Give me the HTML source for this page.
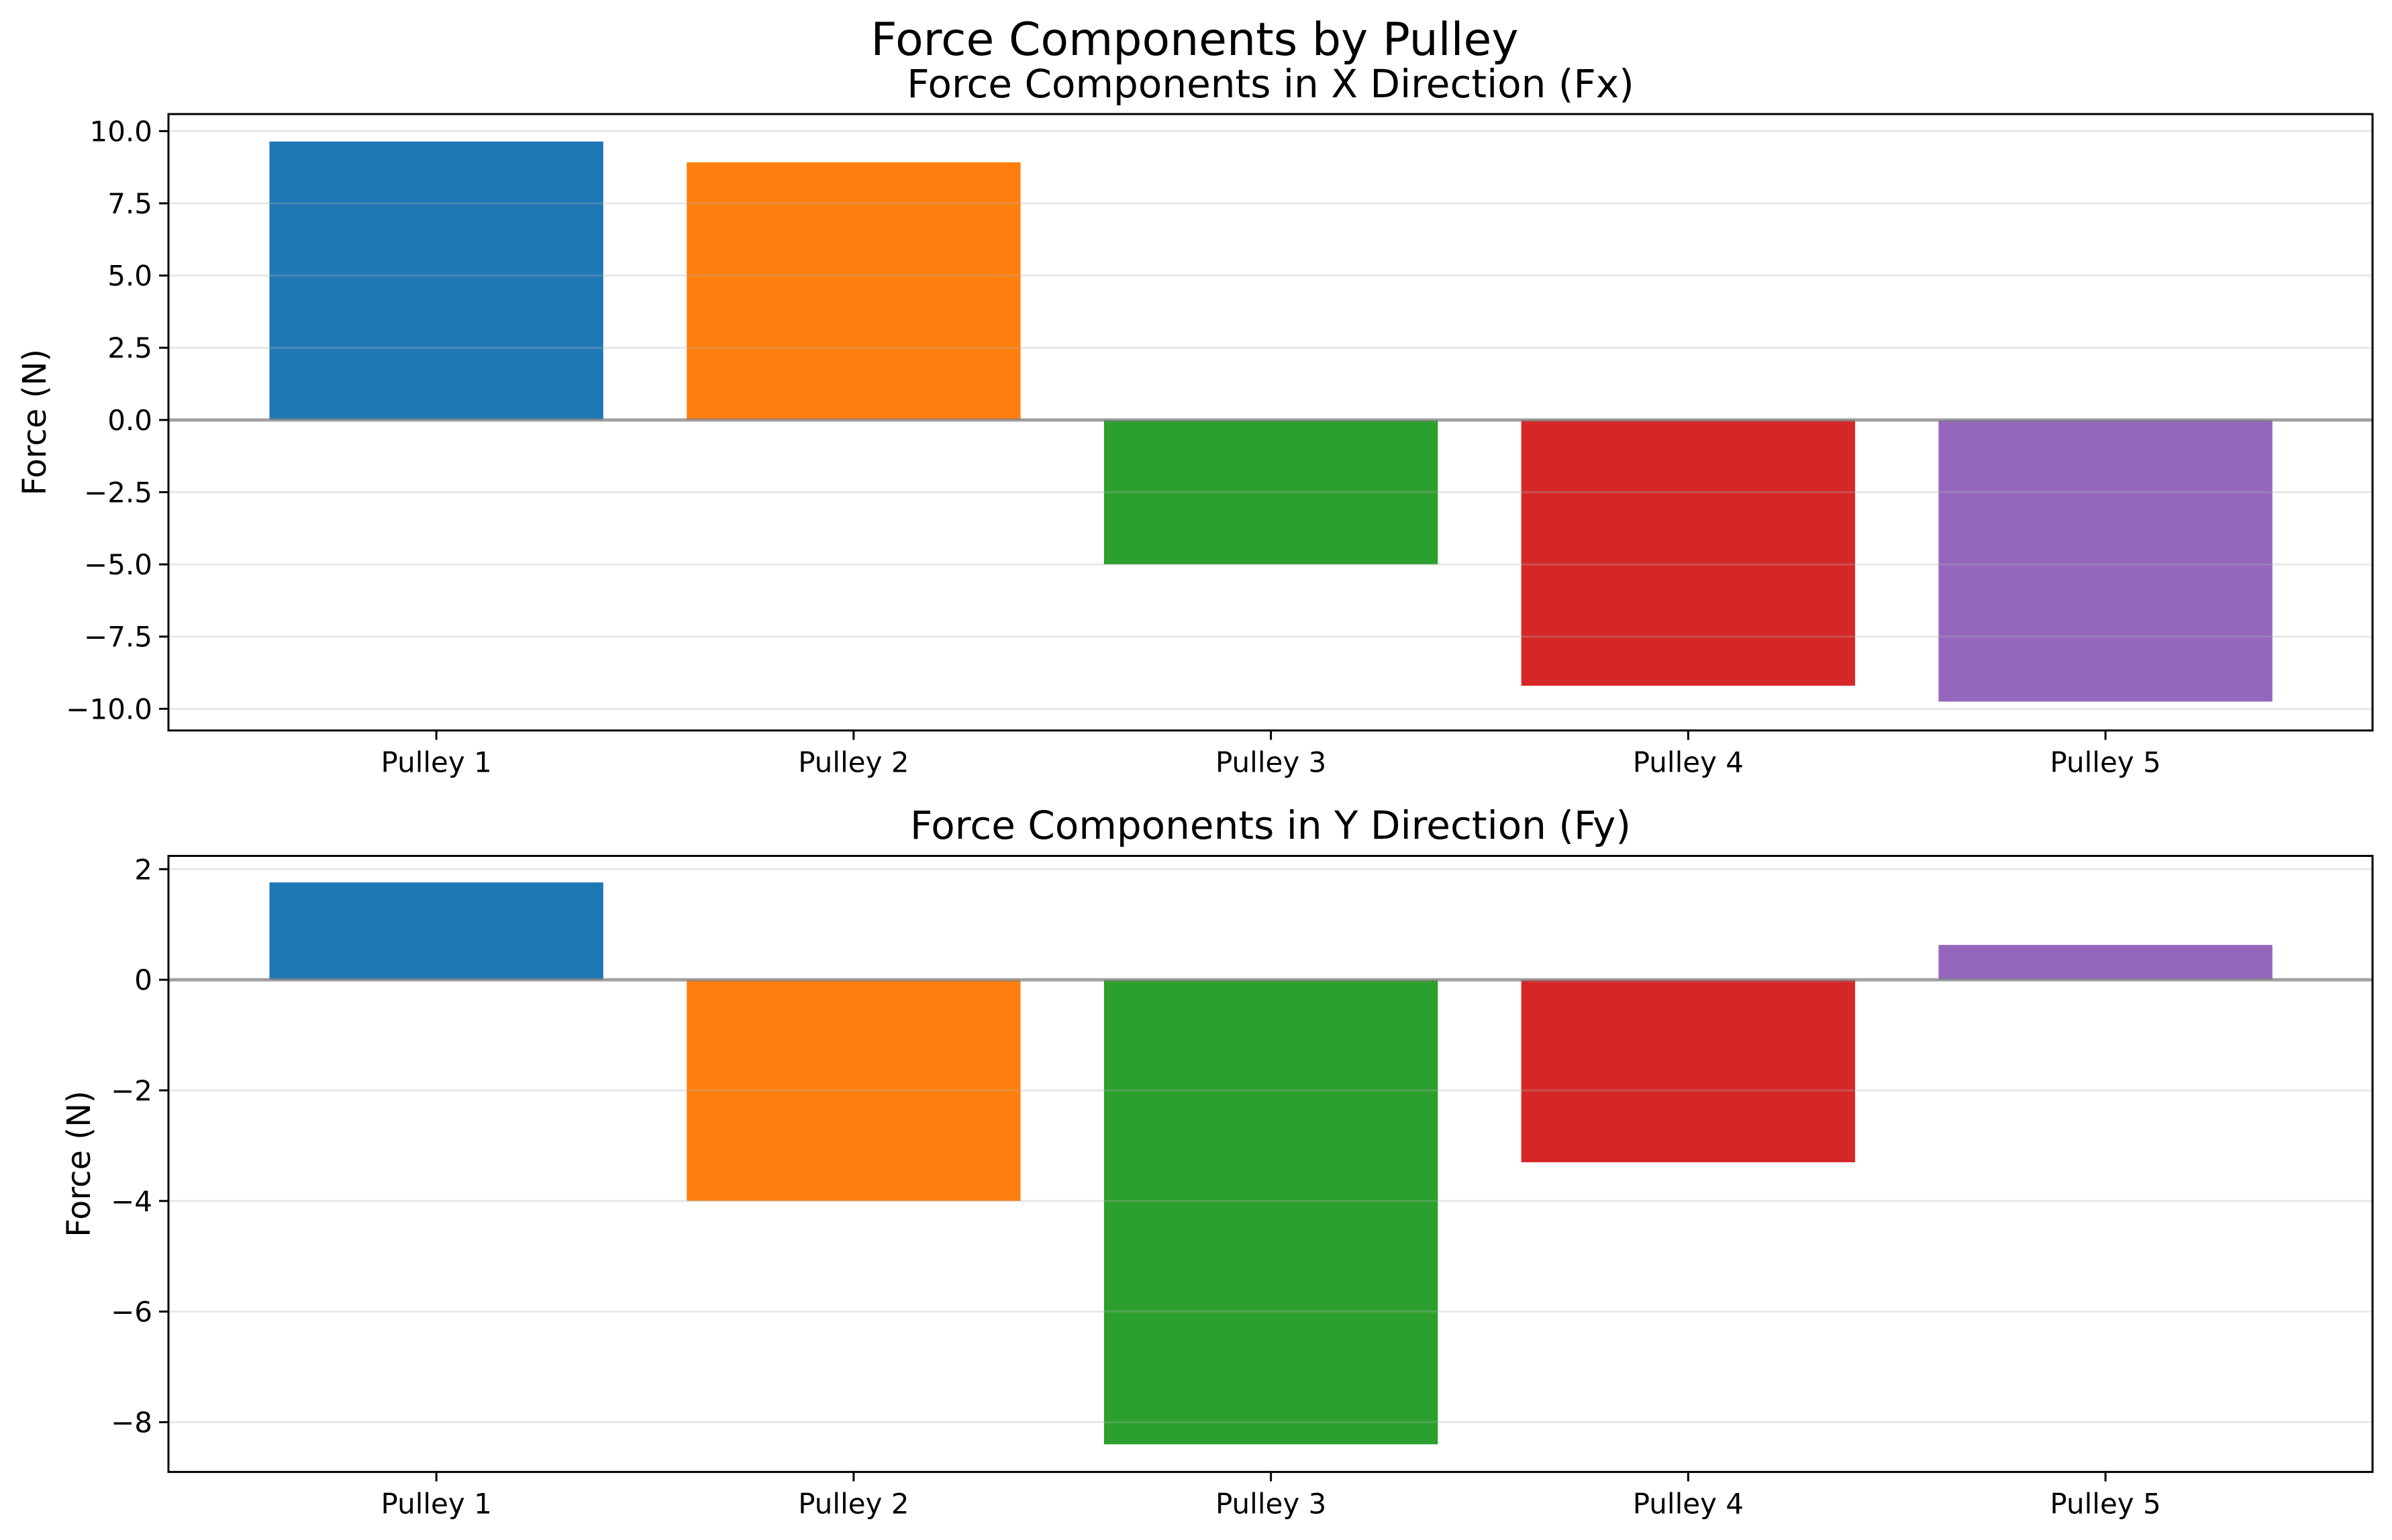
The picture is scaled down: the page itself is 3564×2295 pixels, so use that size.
<!DOCTYPE html>
<html><head><meta charset="utf-8">
<style>
html,body{margin:0;padding:0;background:#fff;}
svg{display:block;font-family:"DejaVu Sans","Liberation Sans",sans-serif;}
</style></head>
<body>
<svg id="fig" width="3564" height="2295" viewBox="0 0 3564 2295" xmlns="http://www.w3.org/2000/svg">
<rect x="0" y="0" width="3564" height="2295" fill="#fff"/>
<text x="1780" y="82" font-size="68" text-anchor="middle" fill="#000">Force Components by Pulley</text>
</svg>
<script>
const categories = ["Pulley 1","Pulley 2","Pulley 3","Pulley 4","Pulley 5"];
const fxValues = [9.64, 8.92, -5.0, -9.2, -9.75];
const fyValues = [1.76, -4.0, -8.4, -3.3, 0.63];
const fxTicks = [10, 7.5, 5, 2.5, 0, -2.5, -5, -7.5, -10];
const fxTickLabels = ["10.0","7.5","5.0","2.5","0.0","\u22122.5","\u22125.0","\u22127.5","\u221210.0"];
const fyTicks = [2, 0, -2, -4, -6, -8];
const fyTickLabels = ["2","0","\u22122","\u22124","\u22126","\u22128"];
const colors = ["#1f77b4","#ff7f0e","#2ca02c","#d62728","#9467bd"];

const NS = "http://www.w3.org/2000/svg";
const svg = document.getElementById("fig");
function mk(tag, attrs, parent){
  const e = document.createElementNS(NS, tag);
  for (const k in attrs) e.setAttribute(k, attrs[k]);
  (parent||svg).appendChild(e);
  return e;
}

function panel(cfg){
  const g = mk("g", {});
  
  
  const L=251, R=3535, T=cfg.top, B=cfg.bottom;
  const xmin=-0.642, xmax=4.64;
  const xs = v => L + (v - xmin) / (xmax - xmin) * (R - L);
  const ys = v => T + (cfg.ymax - v) / (cfg.ymax - cfg.ymin) * (B - T);
  cfg.values.forEach((v,i)=>{
    const x0 = xs(i-0.4), x1 = xs(i+0.4);
    const y0 = ys(Math.max(v,0)), y1 = ys(Math.min(v,0));
    const r = mk("rect", {x:x0, y:y0, width:x1-x0, height:y1-y0, fill:colors[i]}, g);
    
    
  });
  cfg.ticks.forEach((t,i)=>{
    const y = ys(t);
    const gl = mk("line", {x1:L, x2:R, y1:y, y2:y, stroke:"#b0b0b0", "stroke-opacity":"0.3", "stroke-width":"3"}, g);
    
    
    const tk = mk("line", {x1:L-14, x2:L, y1:y, y2:y, stroke:"#000", "stroke-width":"3"}, g);
    
    
    const tl = mk("text", {x:L-24, y:y+15, "font-size":"42", "text-anchor":"end", fill:"#000"}, g);
    tl.textContent = cfg.tickLabels[i];
    
    
  });
  const z = ys(0);
  const zl = mk("line", {x1:L, x2:R, y1:z, y2:z, stroke:"#808080", "stroke-opacity":"0.7", "stroke-width":"5"}, g);
  
  
  categories.forEach((c,i)=>{
    const x = xs(i);
    const tk = mk("line", {x1:x, x2:x, y1:B, y2:B+14, stroke:"#000", "stroke-width":"3"}, g);
    
    
    const tl = mk("text", {x:x, y:B+62, "font-size":"42", "text-anchor":"middle", fill:"#000"}, g);
    tl.textContent = c;
    
    
  });
  const fr = mk("rect", {x:L, y:T, width:R-L, height:B-T, fill:"none", stroke:"#000", "stroke-width":"3"}, g);
  
  
  const ti = mk("text", {x:(L+R)/2, y:cfg.titleY, "font-size":"58", "text-anchor":"middle", fill:"#000"}, g);
  ti.textContent = cfg.title;
  
  
  const yl = mk("text", {x:0, y:0, "font-size":"48", "text-anchor":"middle", fill:"#000",
    transform:"translate(" + (cfg.ylabelX) + "," + ((T+B)/2) + ") rotate(-90)"}, g);
  yl.textContent = "Force (N)";
  
  
}

panel({name:"fx-panel", top:170, bottom:1088.6, ymax:10.59, ymin:-10.75,
  values:fxValues, ticks:fxTicks, tickLabels:fxTickLabels,
  title:"Force Components in X Direction (Fx)", titleY:145, ylabelX:68});
panel({name:"fy-panel", top:1275.5, bottom:2193.6, ymax:2.24, ymin:-8.9,
  values:fyValues, ticks:fyTicks, tickLabels:fyTickLabels,
  title:"Force Components in Y Direction (Fy)", titleY:1250, ylabelX:134});
</script>
</body></html>
